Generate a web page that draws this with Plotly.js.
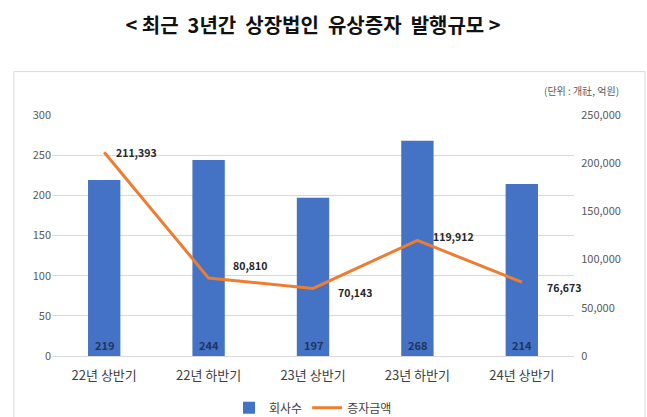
<!DOCTYPE html>
<html><head><meta charset="utf-8">
<script src="https://cdn.plot.ly/plotly-3.0.1.min.js"></script>
<style>html,body{margin:0;padding:0;background:#fff}#c{width:647px;height:417px}</style>
</head><body><div id="c"></div>
<script>
const categories = ['22년 상반기','22년 하반기','23년 상반기','23년 하반기','24년 상반기'];
const companies = [219, 244, 197, 268, 214];
const amounts = [211393, 80810, 70143, 119912, 76673];
const leftTicks = [0, 50, 100, 150, 200, 250, 300];
const rightTicks = [0, 50000, 100000, 150000, 200000, 250000];

const font = "'Noto Sans CJK KR', 'Noto Sans', sans-serif";
const labelShift = [[10, 0], [22, 13], [23, -4], [14, 4], [23, -5]];

const fmt = v => v.toLocaleString('en-US');

const traces = [
  {type:'bar', x:categories, y:companies, name:'회사수', marker:{color:'#4472c4'},
   width:0.31, hoverinfo:'none'},
  {type:'scatter', mode:'lines', x:categories, y:amounts, yaxis:'y2', name:'증자금액',
   line:{color:'#ed7d31', width:3}, hoverinfo:'none'}
];

const annotations = amounts.map((v,i)=>({
  x:categories[i], y:v, xref:'x', yref:'y2', text:'<b>'+fmt(v)+'</b>', showarrow:false,
  xanchor:'left', yanchor:'middle', xshift:labelShift[i][0], yshift:labelShift[i][1],
  font:{family:font, size:10.5, color:'#262626'}
}));
companies.forEach((v,i)=>annotations.push({
  x:categories[i], y:0, xref:'x', yref:'y', text:'<b>'+String(v)+'</b>', showarrow:false,
  xanchor:'center', yanchor:'middle', yshift:11,
  font:{family:font, size:11, color:'#1f3560'}
}));
annotations.push({xref:'paper', yref:'paper', x:1.09, y:1.1, xanchor:'right', yanchor:'middle',
  text:'(단위 : 개社, 억원)', showarrow:false, font:{family:font, size:10, color:'#595959'}});

const layout = {
  width:647, height:417, margin:{l:52, r:73, t:115, b:61, autoexpand:false},
  paper_bgcolor:'#fff', plot_bgcolor:'#fff',
  title:{text:'<b>< 최근  3년간  상장법인  유상증자  발행규모 ></b>', x:0.5, xref:'paper', xanchor:'center',
         y:0.955, yref:'container', font:{family:font, size:20, color:'#111'}},
  xaxis:{type:'category', tickfont:{family:font, size:13, color:'#404040'}, showline:false,
         ticks:'outside', ticklen:7, tickcolor:'rgba(0,0,0,0)',
         range:[-0.5, 4.5], fixedrange:true},
  yaxis:{range:[0,300], tickvals:leftTicks, tickfont:{family:font, size:11, color:'#595959'},
         gridcolor:'#d9d9d9', gridwidth:1, zeroline:true, zerolinecolor:'#d9d9d9', ticks:''},
  yaxis2:{range:[0,250000], tickvals:rightTicks, ticktext:rightTicks.map(fmt), overlaying:'y', side:'right',
          showgrid:false, zeroline:false, tickfont:{family:font, size:11, color:'#595959'},
          ticks:'outside', ticklen:4, tickcolor:'rgba(0,0,0,0)'},
  showlegend:true,
  legend:{orientation:'h', x:0.5, xanchor:'center', y:0.022, yref:'container', yanchor:'middle',
          font:{family:font, size:12, color:'#404040'}, traceorder:'normal'},
  annotations:annotations,
  shapes:[{type:'rect', xref:'paper', yref:'paper', x0:-0.073, x1:1.136, y0:-0.4, y1:1.18,
           line:{color:'#d9d9d9', width:1}, fillcolor:'rgba(0,0,0,0)', layer:'below'}]
};
Plotly.newPlot('c', traces, layout, {displayModeBar:false, staticPlot:true});
</script></body></html>
